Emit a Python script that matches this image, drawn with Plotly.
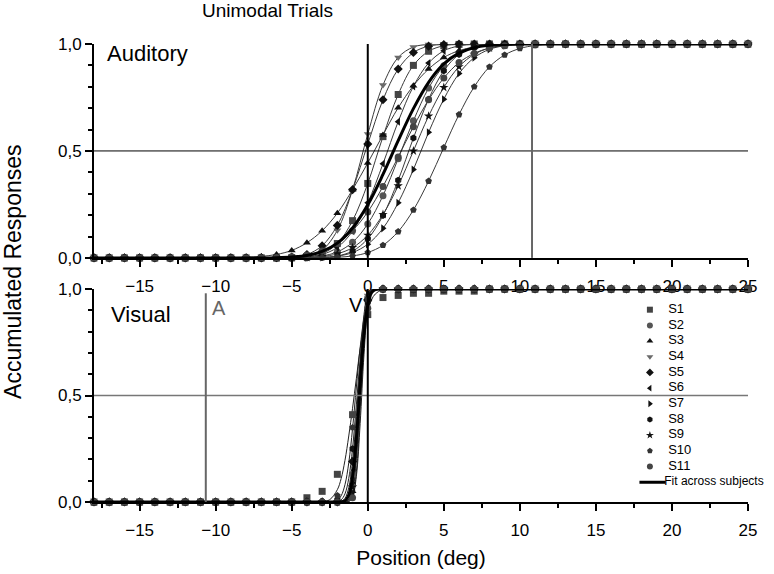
import plotly.graph_objects as go
from plotly.subplots import make_subplots

# positions (deg) where responses were sampled
positions = list(range(-18, 26))

subjects = ['S1', 'S2', 'S3', 'S4', 'S5', 'S6', 'S7', 'S8', 'S9', 'S10', 'S11']
symbols = ['square', 'circle', 'triangle-up', 'triangle-down', 'diamond', 'triangle-left',
           'triangle-right', 'hexagon', 'star', 'pentagon', 'circle']
colors = ['#444444', '#555555', '#111111', '#6a6a6a', '#111111', '#111111',
          '#111111', '#111111', '#111111', '#333333', '#444444']

# Auditory trials: accumulated responses per subject (x = -18..25)
aud_s1 = [0]*12 + [0, 0.001, 0.005, 0.02, 0.067, 0.174, 0.348, 0.567, 0.764, 0.9, 0.966, 0.992, 0.998] + [1]*19
aud_s2 = [0]*12 + [0, 0.001, 0.002, 0.009, 0.028, 0.073, 0.159, 0.291, 0.464, 0.641, 0.794, 0.898, 0.958, 0.985, 0.996, 0.999] + [1]*16
aud_s3 = [0]*9 + [0.001, 0.003, 0.007, 0.016, 0.035, 0.071, 0.127, 0.209, 0.319, 0.444, 0.575, 0.702, 0.805, 0.883, 0.937, 0.969, 0.986, 0.994, 0.998, 0.999] + [1]*15
aud_s4 = [0]*12 + [0, 0.001, 0.007, 0.036, 0.129, 0.319, 0.579, 0.808, 0.937, 0.986, 0.998] + [1]*21
aud_s5 = [0]*11 + [0, 0.001, 0.004, 0.016, 0.057, 0.152, 0.319, 0.532, 0.739, 0.883, 0.96, 0.99, 0.998] + [1]*20
aud_s6 = [0]*12 + [0, 0.001, 0.004, 0.016, 0.049, 0.125, 0.258, 0.44, 0.637, 0.802, 0.911, 0.968, 0.991, 0.998] + [1]*18
aud_s7 = [0]*13 + [0, 0.001, 0.002, 0.008, 0.025, 0.064, 0.138, 0.258, 0.413, 0.587, 0.742, 0.862, 0.936, 0.975, 0.992, 0.998] + [1]*15
aud_s8 = [0]*14 + [0, 0.002, 0.009, 0.032, 0.089, 0.198, 0.363, 0.56, 0.742, 0.875, 0.951, 0.984, 0.996, 0.999] + [1]*16
aud_s9 = [0]*13 + [0, 0.002, 0.006, 0.019, 0.048, 0.106, 0.203, 0.337, 0.5, 0.663, 0.797, 0.894, 0.952, 0.981, 0.994, 0.998] + [1]*15
aud_s10 = [0]*15 + [0.001, 0.003, 0.009, 0.025, 0.059, 0.123, 0.224, 0.359, 0.516, 0.67, 0.8, 0.893, 0.949, 0.979, 0.993, 0.998] + [1]*13
aud_s11 = [0]*11 + [0.001, 0.002, 0.005, 0.014, 0.032, 0.067, 0.127, 0.215, 0.334, 0.472, 0.613, 0.739, 0.841, 0.913, 0.956, 0.981, 0.992, 0.997] + [1]*15
aud_fit = [0]*12 + [0.001, 0.004, 0.011, 0.03, 0.069, 0.14, 0.248, 0.39, 0.548, 0.698, 0.821, 0.907, 0.957, 0.983, 0.994, 0.998] + [1]*16

# Visual trials: measured points (x = -18..25)
vis_s1 = [0]*14 + [0.02, 0.05, 0.13, 0.41, 0.88, 0.96, 0.97, 0.98, 0.98, 0.99, 0.99, 0.99] + [1]*18
vis_s2 = [0]*16 + [0, 0.13, 0.96] + [1]*25
vis_s3 = [0]*16 + [0, 0.05, 0.95] + [1]*25
vis_s4 = [0]*16 + [0, 0.07, 0.97] + [1]*25
vis_s5 = [0]*16 + [0, 0.19, 0.95] + [1]*25
vis_s6 = [0]*16 + [0, 0.03, 0.95] + [1]*25
vis_s7 = [0]*16 + [0, 0.09, 0.98] + [1]*25
vis_s8 = [0]*16 + [0.01, 0.25, 0.94] + [1]*25
vis_s9 = [0]*16 + [0, 0.07, 0.94] + [1]*25
vis_s10 = [0]*16 + [0.03, 0.35, 0.95] + [1]*25
vis_s11 = [0]*16 + [0, 0.02, 0.91] + [1]*25

# Visual trials: fitted curves, read on a finer grid around the step
vis_fit_pos = [-18, -4, -3, -2.5, -2, -1.75, -1.5, -1.25, -1, -0.75, -0.5, -0.25, 0, 0.25, 0.5, 1, 2, 25]
vis_fit_s1 = [0, 0, 0.001, 0.011, 0.058, 0.11, 0.195, 0.31, 0.44, 0.58, 0.72, 0.82, 0.9, 0.95, 0.977, 0.997, 1, 1]
vis_fit_s2 = [0, 0, 0, 0, 0, 0.0005, 0.005, 0.031, 0.127, 0.334, 0.613, 0.841, 0.957, 0.992, 0.999, 1, 1, 1]
vis_fit_s3 = [0, 0, 0, 0, 0, 0, 0, 0.006, 0.048, 0.203, 0.5, 0.797, 0.952, 0.994, 1, 1, 1, 1]
vis_fit_s4 = [0, 0, 0, 0, 0, 0, 0.001, 0.01, 0.067, 0.252, 0.567, 0.841, 0.966, 0.996, 1, 1, 1, 1]
vis_fit_s5 = [0, 0, 0, 0, 0.0004, 0.003, 0.017, 0.067, 0.191, 0.401, 0.646, 0.841, 0.948, 0.988, 0.998, 1, 1, 1]
vis_fit_s6 = [0, 0, 0, 0, 0, 0, 0, 0.002, 0.025, 0.142, 0.429, 0.762, 0.946, 0.994, 1, 1, 1, 1]
vis_fit_s7 = [0, 0, 0, 0, 0, 0, 0.001, 0.015, 0.092, 0.309, 0.631, 0.879, 0.977, 0.998, 1, 1, 1, 1]
vis_fit_s8 = [0, 0, 0, 0, 0.002, 0.01, 0.038, 0.111, 0.252, 0.456, 0.67, 0.841, 0.94, 0.983, 0.996, 1, 1, 1]
vis_fit_s9 = [0, 0, 0, 0, 0, 0, 0.001, 0.012, 0.065, 0.224, 0.5, 0.776, 0.935, 0.988, 0.999, 1, 1, 1]
vis_fit_s10 = [0, 0, 0, 0.0003, 0.008, 0.029, 0.081, 0.184, 0.345, 0.54, 0.726, 0.864, 0.945, 0.982, 0.995, 1, 1, 1]
vis_fit_s11 = [0, 0, 0, 0, 0, 0, 0, 0.002, 0.023, 0.121, 0.369, 0.691, 0.908, 0.985, 0.999, 1, 1, 1]
vis_fit_all = [0, 0, 0, 0, 0.0001, 0.001, 0.006, 0.033, 0.119, 0.3, 0.55, 0.785, 0.926, 0.983, 0.997, 1, 1, 1]

# stimulus locations (deg)
aud_A, aud_V = 0, 10.8
vis_A, vis_V = -10.65, 0

aud_data = [aud_s1, aud_s2, aud_s3, aud_s4, aud_s5, aud_s6, aud_s7, aud_s8, aud_s9, aud_s10, aud_s11]
vis_data = [vis_s1, vis_s2, vis_s3, vis_s4, vis_s5, vis_s6, vis_s7, vis_s8, vis_s9, vis_s10, vis_s11]
vis_fits = [vis_fit_s1, vis_fit_s2, vis_fit_s3, vis_fit_s4, vis_fit_s5, vis_fit_s6, vis_fit_s7,
            vis_fit_s8, vis_fit_s9, vis_fit_s10, vis_fit_s11]

FONT = "Liberation Sans, Arial, sans-serif"

fig = make_subplots(rows=2, cols=1)

# top panel: auditory
for i, name in enumerate(subjects):
    fig.add_trace(go.Scatter(
        x=positions, y=aud_data[i], mode='lines+markers', name=name,
        line=dict(color='#3a3a3a', width=1, shape='spline'),
        marker=dict(symbol=symbols[i], size=7, color=colors[i]),
        showlegend=False, cliponaxis=False), row=1, col=1)
fig.add_trace(go.Scatter(
    x=positions, y=aud_fit, mode='lines', name='Fit across subjects',
    line=dict(color='black', width=3, shape='spline'),
    showlegend=False, cliponaxis=False), row=1, col=1)

# bottom panel: visual
for i, name in enumerate(subjects):
    fig.add_trace(go.Scatter(
        x=vis_fit_pos, y=vis_fits[i], mode='lines',
        line=dict(color='#222222', width=1, shape='spline'),
        showlegend=False, hoverinfo='skip', cliponaxis=False), row=2, col=1)
for i, name in enumerate(subjects):
    fig.add_trace(go.Scatter(
        x=positions, y=vis_data[i], mode='markers', name=name,
        marker=dict(symbol=symbols[i], size=7, color=colors[i]),
        showlegend=False, cliponaxis=False), row=2, col=1)
fig.add_trace(go.Scatter(
    x=vis_fit_pos, y=vis_fit_all, mode='lines', name='Fit across subjects',
    line=dict(color='black', width=3, shape='spline'),
    showlegend=False, cliponaxis=False), row=2, col=1)

# legend (drawn in its own hidden axes so the rows can sit as tight as in the original)
legend_rows = list(range(len(subjects) + 1))
fig.add_trace(go.Scatter(
    x=[0.25] * len(subjects), y=legend_rows[:-1], mode='markers',
    marker=dict(symbol=symbols, size=6, color=colors),
    xaxis='x3', yaxis='y3', showlegend=False, hoverinfo='skip', cliponaxis=False))
fig.add_trace(go.Scatter(
    x=[0.39] * len(subjects), y=legend_rows[:-1], mode='text', text=subjects,
    textposition='middle right', textfont=dict(size=13, color='black'),
    xaxis='x3', yaxis='y3', showlegend=False, hoverinfo='skip', cliponaxis=False))
fig.add_trace(go.Scatter(
    x=[0.17, 0.37], y=[legend_rows[-1]] * 2, mode='lines',
    line=dict(color='black', width=3),
    xaxis='x3', yaxis='y3', showlegend=False, hoverinfo='skip', cliponaxis=False))
fig.add_trace(go.Scatter(
    x=[0.36], y=[legend_rows[-1]], mode='text', text=['Fit across subjects'],
    textposition='middle right', textfont=dict(size=12, color='black'),
    xaxis='x3', yaxis='y3', showlegend=False, hoverinfo='skip', cliponaxis=False))

xaxis_style = dict(
    range=[-18, 25], dtick=5, tick0=0, showline=True, linewidth=2, linecolor='black',
    ticks='outside', ticklen=7, tickwidth=2, tickcolor='black', ticklabelstandoff=5,
    minor=dict(dtick=2.5, tick0=0, ticks='outside', ticklen=4, tickwidth=1.5, tickcolor='black'),
    showgrid=False, zeroline=False, tickfont=dict(size=17, color='black'))
yaxis_style = dict(
    range=[0, 1], dtick=0.5, tick0=0, tickformat='.1f', showline=True, linewidth=2,
    linecolor='black', ticks='outside', ticklen=7, tickwidth=2, tickcolor='black',
    minor=dict(dtick=0.1, ticks='outside', ticklen=4, tickwidth=1.5, tickcolor='black'),
    showgrid=False, zeroline=False, tickfont=dict(size=17, color='black'))

fig.update_layout(
    xaxis=dict(xaxis_style, domain=[0, 1]),
    xaxis2=dict(xaxis_style, domain=[0, 1],
                title=dict(text='Position (deg)', font=dict(size=21), standoff=11)),
    yaxis=dict(yaxis_style, domain=[0.533, 1]),
    yaxis2=dict(yaxis_style, domain=[0, 0.465]),
    xaxis3=dict(domain=[0.8, 1.0], range=[0, 1], anchor='y3', visible=False, fixedrange=True),
    yaxis3=dict(domain=[0.026, 0.437], range=[11.5, -0.5], anchor='x3', visible=False,
                fixedrange=True),
)

shapes = [
    # 0.5 reference lines
    dict(type='line', xref='x', yref='y', x0=-18, x1=25, y0=0.5, y1=0.5,
         line=dict(color='black', width=1)),
    dict(type='line', xref='x2', yref='y2', x0=-18, x1=25, y0=0.5, y1=0.5,
         line=dict(color='#777777', width=1.3)),
    # stimulus positions
    dict(type='line', xref='x', yref='y', x0=aud_A, x1=aud_A, y0=0, y1=1.03,
         line=dict(color='black', width=2)),
    dict(type='line', xref='x', yref='y', x0=aud_V, x1=aud_V, y0=0, y1=1.04,
         line=dict(color='#666666', width=2)),
    dict(type='line', xref='x2', yref='y2', x0=vis_A, x1=vis_A, y0=0, y1=0.98,
         line=dict(color='#666666', width=2)),
    dict(type='line', xref='x2', yref='y2', x0=vis_V, x1=vis_V, y0=0, y1=1.0,
         line=dict(color='black', width=2)),
]

annotations = [
    dict(text='Unimodal Trials', xref='paper', yref='paper', x=0.266, y=1.074,
         xanchor='center', yanchor='middle', showarrow=False, font=dict(size=19)),
    dict(text='Accumulated Responses', xref='paper', yref='paper', x=-0.125, y=0.503,
         xanchor='center', yanchor='middle', textangle=-90, showarrow=False,
         font=dict(size=23)),
    dict(text='Auditory', xref='x', yref='y', x=-17.3, y=0.955, xanchor='left',
         showarrow=False, font=dict(size=22)),
    dict(text='Visual', xref='x2', yref='y2', x=-17.0, y=0.88, xanchor='left',
         showarrow=False, font=dict(size=22)),
    dict(text='A', xref='x', yref='y', x=aud_A, y=1.065, showarrow=False,
         font=dict(size=20, color='black')),
    dict(text='V', xref='x', yref='y', x=aud_V, y=1.065, showarrow=False,
         font=dict(size=21, color='#666666')),
    dict(text='A', xref='x2', yref='y2', x=vis_A + 0.3, y=0.91, xanchor='left',
         showarrow=False, font=dict(size=20, color='#666666')),
    dict(text='V', xref='x2', yref='y2', x=vis_V - 0.8, y=0.925, showarrow=False,
         font=dict(size=20, color='black')),
]

fig.update_layout(
    width=774, height=574,
    margin=dict(l=94, r=26, t=44, b=72, autoexpand=False),
    paper_bgcolor='white', plot_bgcolor='white',
    font=dict(family=FONT, color='black'),
    separators=', ',
    shapes=shapes,
    annotations=annotations,
    showlegend=False,
)

fig.write_html("out.html", config={'displayModeBar': False},
               post_script="document.body.style.margin='0';")
